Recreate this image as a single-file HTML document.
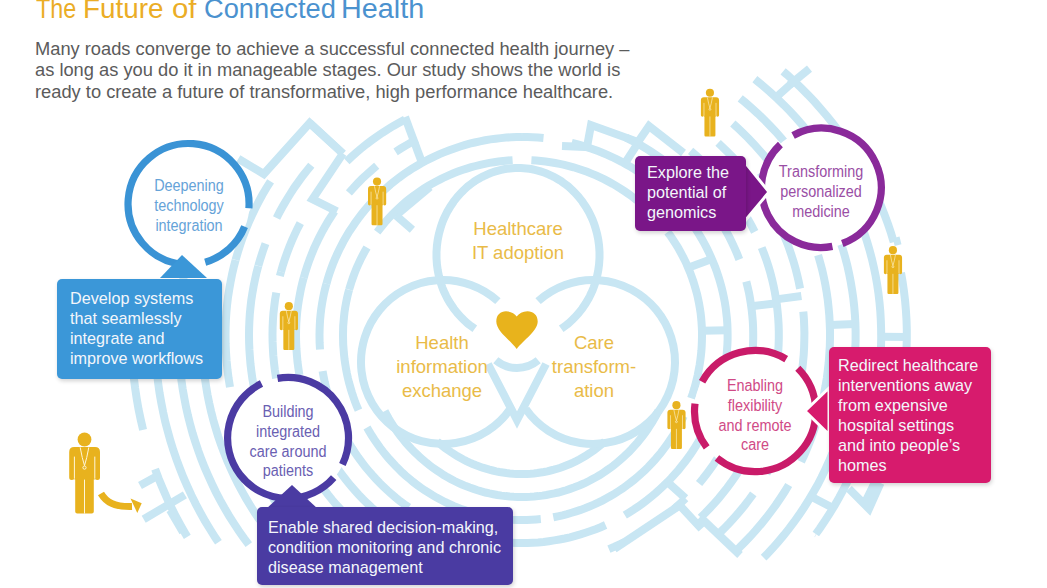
<!DOCTYPE html>
<html><head><meta charset="utf-8">
<style>
html,body{margin:0;padding:0;}
body{width:1047px;height:588px;overflow:hidden;position:relative;background:#fff;font-family:"Liberation Sans",sans-serif;}
.abs{position:absolute;}
#title{left:36px;top:-6px;font-size:27px;line-height:30px;white-space:nowrap;width:500px;height:30px;}
.tw{position:absolute;top:0;transform-origin:0 0;}
#para{left:35px;top:37.5px;font-size:18.3px;line-height:21.5px;color:#5b5b5b;white-space:nowrap;}
.box{position:absolute;border-radius:5px;color:#f3f6fb;font-size:16.2px;line-height:20px;white-space:nowrap;box-shadow:1px 2px 4px rgba(0,0,0,0.18);}
.lbl{position:absolute;text-align:center;font-size:16px;line-height:19.8px;white-space:nowrap;transform:scaleX(0.9);}
.gold{position:absolute;text-align:center;font-size:18.5px;line-height:24.2px;color:#e9bb48;white-space:nowrap;transform:scaleX(1.0);}
svg{position:absolute;left:0;top:0;}
</style></head>
<body>
<svg width="1047" height="588" viewBox="0 0 1047 588">
<!--MAZE-->
<g id="maze" fill="none" stroke="#c8e6f3" stroke-width="8" stroke-linecap="butt" stroke-linejoin="miter">
<path d="M343.0,335.0 L343.1,330.4 L343.2,325.8 L343.6,321.3 L344.0,316.7 L344.5,312.2 L345.2,307.6 L346.0,303.1 L346.9,298.6 L347.9,294.1 L349.1,289.7"/>
<path d="M349.1,289.7 L350.4,285.3 L351.8,280.9 L353.3,276.6 L354.9,272.3 L356.6,268.0 L358.5,263.8 L360.4,259.7 L362.5,255.6 L364.7,251.5 L367.0,247.5"/>
<path d="M377.2,232.1 L380.0,228.5 L382.9,224.9 L385.9,221.3 L389.0,217.9 L392.2,214.5 L395.4,211.3 L398.8,208.1 L402.2,204.9 L405.7,201.9 L409.4,199.0 L413.0,196.2 L416.8,193.4 L420.6,190.8 L424.5,188.2 L428.5,185.8 L432.5,183.4 L436.6,181.2 L440.7,179.1 L444.9,177.0 L449.2,175.1 L453.5,173.3 L457.9,171.6 L462.2,170.0 L466.7,168.6 L471.2,167.2 L475.7,166.0 L480.2,164.8 L484.8,163.8 L489.4,162.9 L494.0,162.2 L498.6,161.5 L503.3,161.0 L508.0,160.5 L512.6,160.2"/>
<path d="M531.4,160.2 L536.2,160.5 L540.9,161.0 L545.6,161.5 L550.4,162.2 L555.1,163.0 L559.7,163.9 L564.4,164.9 L569.0,166.1 L573.6,167.3 L578.1,168.7 L582.6,170.2 L587.1,171.8 L591.5,173.6 L595.9,175.4 L600.2,177.4 L604.4,179.4 L608.6,181.6 L612.8,183.9 L616.9,186.3 L620.9,188.8 L624.8,191.4 L628.7,194.1 L632.5,196.9 L636.2,199.7 L639.9,202.7 L643.4,205.8 L646.9,209.0 L650.3,212.2 L653.6,215.6 L656.8,219.0 L659.9,222.5"/>
<path d="M667.6,232.1 L670.4,235.9 L673.0,239.8 L675.5,243.7 L678.0,247.6 L680.3,251.7 L682.5,255.8 L684.6,259.9 L686.6,264.1 L688.4,268.4 L690.2,272.7 L691.8,277.0 L693.3,281.4 L694.7,285.8 L696.0,290.3 L697.2,294.7 L698.2,299.3 L699.1,303.8 L699.9,308.4 L700.6,312.9 L701.1,317.5 L701.5,322.1 L701.8,326.7 L702.0,331.4 L702.0,336.0 L701.9,340.9 L701.7,345.8 L701.4,350.7 L700.9,355.6 L700.3,360.4 L699.6,365.2 L698.7,370.0 L697.8,374.8 L696.7,379.6 L695.5,384.3 L694.2,389.0 L692.7,393.7 L691.1,398.3"/>
<path d="M683.8,416.1 L681.7,420.4 L679.4,424.7 L677.1,428.9 L674.6,433.0 L672.1,437.1 L669.4,441.1 L666.7,445.0 L663.8,448.9 L660.9,452.7 L657.8,456.4 L654.7,460.0 L651.5,463.5 L648.2,467.0 L644.8,470.3 L641.3,473.6 L637.7,476.7 L634.1,479.8 L630.3,482.7 L626.5,485.6 L622.7,488.4 L618.7,491.0 L614.7,493.6 L610.6,496.0 L606.5,498.3 L602.3,500.6 L598.1,502.7 L593.8,504.7 L589.4,506.5 L585.0,508.3 L580.6,509.9 L576.1,511.4 L571.6,512.8 L567.1,514.1 L562.5,515.3 L557.9,516.3 L553.3,517.2"/>
<path d="M540.8,519.0 L536.1,519.4 L531.4,519.7 L526.7,519.9 L522.0,520.0 L517.3,519.9 L512.6,519.7 L508.0,519.4 L503.3,519.0 L498.6,518.4 L494.0,517.7 L489.4,516.9 L484.8,516.0 L480.2,514.9 L475.7,513.7 L471.2,512.4 L466.7,510.9 L462.2,509.4 L457.9,507.7 L453.5,505.9 L449.2,504.0 L444.9,502.0 L440.7,499.8 L436.6,497.6 L432.5,495.2 L428.5,492.7 L424.5,490.2 L420.6,487.5 L416.8,484.7 L413.0,481.8 L409.4,478.8 L405.7,475.7 L402.2,472.5 L398.8,469.2 L395.4,465.8 L392.2,462.3 L389.0,458.8 L385.9,455.1 L382.9,451.4 L380.0,447.6 L377.2,443.7 L374.5,439.8 L371.9,435.8 L369.4,431.7 L367.0,427.5"/>
<path d="M358.5,410.2 L356.6,405.8 L354.9,401.3 L353.3,396.8 L351.8,392.2 L350.4,387.5 L349.1,382.9 L347.9,378.2 L346.9,373.5 L346.0,368.7 L345.2,363.9 L344.5,359.1 L344.0,354.3 L343.6,349.5 L343.2,344.7 L343.1,339.8 L343.0,335.0"/>
<path d="M319.5,335.0 L319.6,329.8 L319.8,324.6 L320.1,319.5 L320.6,314.3 L321.2,309.2 L322.0,304.0 L322.9,298.9 L323.9,293.8 L325.1,288.8 L326.4,283.8"/>
<path d="M326.4,283.8 L327.8,278.8 L329.4,273.8 L331.1,268.9 L332.9,264.0 L334.9,259.2 L337.0,254.5 L339.2,249.8 L341.6,245.1 L344.0,240.5 L346.6,236.0 L349.3,231.5 L352.2,227.2 L355.1,222.9 L358.2,218.6 L361.3,214.5 L364.6,210.4 L368.0,206.4 L371.5,202.5 L375.1,198.7 L378.8,195.0 L382.6,191.4 L386.5,187.9 L390.5,184.4 L394.6,181.1 L398.7,177.9 L403.0,174.8 L407.3,171.8 L411.7,168.9 L416.2,166.2 L420.8,163.5 L425.4,161.0 L430.1,158.6 L434.8,156.3 L439.6,154.1 L444.5,152.1 L449.4,150.2 L454.4,148.4 L459.4,146.7 L464.5,145.2 L469.6,143.7 L474.7,142.5 L479.9,141.3 L485.1,140.3 L490.3,139.4 L495.6,138.7 L500.8,138.1 L506.1,137.6 L511.4,137.3 L516.7,137.1 L522.0,137.0"/>
<path d="M522.0,137.0 L527.4,137.1 L532.8,137.3 L538.1,137.6 L543.5,138.1"/>
<path d="M571.7,142.9 L576.9,144.2 L582.1,145.7 L587.2,147.2 L592.3,148.9 L597.4,150.8 L602.3,152.7 L607.3,154.8 L612.1,157.0 L616.9,159.4 L621.7,161.8 L626.3,164.4 L631.0,167.1 L635.5,169.9 L639.9,172.8 L644.3,175.8 L648.6,179.0 L652.8,182.2 L656.9,185.6 L660.9,189.0 L664.8,192.6 L668.6,196.2 L672.4,200.0 L676.0,203.8 L679.5,207.7"/>
<path d="M690.4,221.4 L693.5,225.7 L696.4,230.1 L699.2,234.6 L701.9,239.1 L704.4,243.7 L706.9,248.4 L709.2,253.1 L711.3,257.8 L713.4,262.7 L715.3,267.5 L717.1,272.5 L718.7,277.4 L720.2,282.4 L721.6,287.5 L722.8,292.5 L723.9,297.7 L724.9,302.8 L725.7,307.9 L726.3,313.1 L726.9,318.3 L727.3,323.5 L727.5,328.7 L727.6,333.9 L727.6,339.3 L727.4,344.8 L727.0,350.3 L726.6,355.7 L726.0,361.1 L725.2,366.6 L724.3,372.0 L723.3,377.3 L722.1,382.7 L720.8,388.0 L719.4,393.3 L717.8,398.5 L716.1,403.7 L714.2,408.8 L712.2,413.9 L710.1,419.0 L707.9,423.9 L705.5,428.9 L703.0,433.7 L700.3,438.5 L697.6,443.2 L694.7,447.8 L691.7,452.4 L688.6,456.9 L685.4,461.3 L682.0,465.6 L678.6,469.8 L675.0,473.9 L671.4,477.9 L667.6,481.9 L663.7,485.7 L659.7,489.4 L655.7,493.0 L651.5,496.5 L647.3,499.9 L642.9,503.2 L638.5,506.4 L634.0,509.4 L629.4,512.3 L624.8,515.1"/>
<path d="M605.6,525.0 L600.7,527.2 L595.7,529.2 L590.6,531.1 L585.5,532.8 L580.4,534.4 L575.2,535.9 L570.0,537.3 L564.7,538.5 L559.5,539.5 L554.2,540.4 L548.8,541.2 L543.5,541.9 L538.1,542.4 L532.8,542.7 L527.4,542.9 L522.0,543.0 L516.7,542.9 L511.4,542.7 L506.1,542.4 L500.8,541.9 L495.6,541.2 L490.3,540.4 L485.1,539.5 L479.9,538.5 L474.7,537.3 L469.6,535.9 L464.5,534.4 L459.4,532.8 L454.4,531.1 L449.4,529.2 L444.5,527.2 L439.6,525.0 L434.8,522.7 L430.1,520.3 L425.4,517.8 L420.8,515.1"/>
<path d="M408.8,507.4 L404.3,504.3 L399.9,501.0 L395.7,497.6 L391.5,494.0 L387.4,490.4 L383.4,486.6 L379.5,482.8 L375.7,478.8 L372.0,474.7 L368.4,470.5 L364.9,466.3 L361.6,461.9 L358.3,457.5 L355.2,452.9 L352.2,448.3 L349.3,443.6 L346.5,438.8 L343.9,433.9 L341.4,429.0 L339.0,424.0 L336.7,418.9 L334.6,413.8 L332.6,408.6 L330.8,403.4 L329.1,398.1 L327.5,392.8 L326.0,387.4 L324.7,382.0 L323.6,376.6 L322.6,371.1"/>
<path d="M320.0,349.5 L319.6,342.3 L319.5,335.0"/>
<path d="M296.0,335.0 L296.1,329.2 L296.3,323.4 L296.7,317.7 L297.2,311.9 L297.9,306.2 L298.8,300.4 L299.8,294.7 L300.9,289.1 L302.2,283.4 L303.7,277.8"/>
<path d="M303.7,277.8 L305.4,271.9 L307.3,266.1 L309.3,260.3 L311.5,254.6 L313.8,248.9 L316.3,243.4 L319.0,237.8 L321.8,232.4 L324.8,227.0 L327.9,221.7 L331.2,216.5 L334.6,211.4"/>
<path d="M348.9,192.9 L353.2,188.1 L357.6,183.3 L362.2,178.7 L366.9,174.3 L371.8,169.9 L376.7,165.7"/>
<path d="M395.6,151.8 L400.8,148.5 L406.1,145.3 L411.5,142.2 L416.9,139.3"/>
<path d="M626.1,137.7 L629.4,139.3 L634.9,142.1 L640.3,145.1 L645.6,148.2 L650.8,151.5 L655.9,154.8 L660.9,158.3 L665.8,162.0 L670.6,165.7"/>
<path d="M682.6,176.0 L687.0,180.2 L691.3,184.4 L695.4,188.8 L699.4,193.3 L703.3,197.9 L707.1,202.5 L710.7,207.3 L714.2,212.2 L717.6,217.1 L720.8,222.2 L723.9,227.3 L726.8,232.5 L729.6,237.7 L732.2,243.0 L734.7,248.4 L737.1,253.9 L739.3,259.4"/>
<path d="M746.3,281.5 L747.7,287.2 L749.0,292.8 L750.0,298.5 L750.9,304.2 L751.7,310.0 L752.3,315.7 L752.8,321.5 L753.1,327.3 L753.2,333.1 L753.2,339.0 L753.0,345.1 L752.6,351.1 L752.1,357.1 L751.5,363.2 L750.7,369.1 L749.7,375.1 L748.6,381.1 L747.3,387.0 L745.8,392.8 L744.2,398.7 L742.5,404.5 L740.6,410.2 L738.6,415.9 L736.4,421.5 L734.0,427.1 L731.5,432.6 L728.9,438.1 L726.1,443.4 L723.2,448.7 L720.2,454.0 L717.0,459.1 L713.7,464.2 L710.2,469.1 L706.6,474.0 L702.9,478.8 L699.1,483.5"/>
<path d="M685.5,498.3 L681.1,502.6 L676.5,506.8 L674.2,508.9"/>
<path d="M624.3,542.2 L620.2,544.1 L614.6,546.7 L608.9,549.1 L608.9,549.1"/>
<path d="M437.5,549.3 L437.2,549.1 L431.7,546.7 L426.2,544.2 L420.8,541.6 L415.5,538.8 L410.3,535.8 L405.2,532.7 L400.1,529.5 L395.1,526.2 L390.2,522.7 L385.4,519.0 L380.7,515.3 L376.1,511.4 L371.6,507.4 L367.2,503.3 L362.9,499.1 L358.7,494.7 L354.7,490.3 L350.7,485.7 L346.9,481.0 L343.2,476.2 L339.6,471.4 L336.1,466.4 L332.8,461.3 L329.6,456.2 L326.5,450.9 L323.6,445.6 L320.8,440.2 L318.2,434.8 L315.7,429.2 L313.3,423.6 L311.1,418.0 L309.0,412.3 L307.1,406.5 L305.3,400.7 L303.7,394.8"/>
<path d="M299.4,375.1 L298.4,368.5 L297.5,361.8 L296.9,355.1 L296.4,348.4 L296.1,341.7 L296.0,335.0"/>
<path d="M272.5,335.0 L272.6,327.9 L272.9,320.8 L273.4,313.7 L274.2,306.7 L275.1,299.6 L276.3,292.6"/>
<path d="M279.9,276.0 L281.0,271.8"/>
<path d="M281.0,271.8 L282.8,265.5 L284.8,259.3 L287.0,253.1 L289.3,247.0 L291.8,240.9 L294.5,234.9 L297.3,228.9 L300.3,223.1"/>
<path d="M346.8,161.3 L351.6,156.8 L356.4,152.5 L361.4,148.3 L366.5,144.2 L371.7,140.3 L377.0,136.5 L382.4,132.8 L387.8,129.3 L393.4,125.9 L399.1,122.7 L404.9,119.6"/>
<path d="M690.6,150.9 L695.5,155.1 L700.4,159.5 L705.2,164.0 L709.8,168.6 L714.3,173.3 L718.7,178.2 L723.0,183.1 L727.1,188.2 L731.1,193.3 L734.9,198.6 L738.6,203.9 L742.1,209.3 L745.5,214.8 L748.7,220.4 L751.8,226.1 L754.7,231.9"/>
<path d="M761.7,247.6 L764.1,253.8 L766.4,260.0 L768.4,266.3 L770.3,272.7 L772.0,279.1 L773.5,285.5 L774.8,292.0 L775.9,298.5 L776.9,305.1 L777.6,311.6 L778.2,318.2 L778.6,324.8 L778.8,331.4 L778.8,338.1 L778.6,345.0 L778.2,351.8 L777.7,358.7 L776.9,365.5 L776.0,372.3 L774.9,379.1"/>
<path d="M768.9,405.0 L766.9,411.4 L764.8,417.7 L762.5,424.0 L760.1,430.2 L757.5,436.3 L754.7,442.3 L751.8,448.3 L748.7,454.2 L745.5,460.1 L742.1,465.8 L738.6,471.5 L734.9,477.0 L731.1,482.5 L727.1,487.9 L723.0,493.1 L718.7,498.3 L714.3,503.3 L709.8,508.2 L705.2,513.0 L700.6,517.5"/>
<path d="M387.3,548.8 L386.1,548.0 L380.7,544.3 L375.3,540.5 L370.1,536.5 L365.0,532.4 L360.0,528.1 L355.1,523.8 L350.3,519.2 L345.6,514.6 L341.0,509.8 L336.6,505.0 L332.3,500.0 L328.1,494.8 L324.1,489.6 L320.2,484.3 L316.4,478.9 L312.8,473.3 L309.3,467.7 L305.9,462.0"/>
<path d="M295.9,442.3 L293.1,436.0 L290.5,429.6 L288.0,423.2 L285.7,416.6 L283.6,410.1 L281.7,403.4 L280.0,396.7 L278.4,390.0 L277.0,383.2 L275.8,376.4 L274.8,369.5 L274.0,362.7 L273.3,355.8 L272.9,348.8 L272.6,341.9 L272.5,335.0"/>
<path d="M249.0,335.0 L249.1,328.0 L249.4,321.0 L249.8,314.1 L250.5,307.1 L251.3,300.1 L252.4,293.2 L253.6,286.3 L255.0,279.5 L256.5,272.7 L258.3,265.9"/>
<path d="M258.3,265.9 L260.5,258.4 L262.9,251.0 L265.5,243.7"/>
<path d="M276.6,218.0 L279.8,211.7 L283.2,205.6 L286.8,199.5 L290.5,193.5 L294.3,187.6 L298.4,181.9 L302.5,176.2 L306.9,170.6 L311.3,165.2"/>
<path d="M718.1,142.9 L722.3,146.8 L727.5,151.9 L732.6,157.1 L737.5,162.4 L742.2,167.9 L746.8,173.4 L751.2,179.1 L755.5,184.9 L759.6,190.7 L763.6,196.7 L767.4,202.8 L771.0,209.0 L774.4,215.2 L777.7,221.6 L780.7,228.0 L783.6,234.5 L786.4,241.1 L788.9,247.7 L791.2,254.4 L793.4,261.2 L795.4,268.0 L797.1,274.8 L798.7,281.7 L800.1,288.6"/>
<path d="M803.3,311.7 L803.9,318.8 L804.2,325.9 L804.4,333.0 L804.3,340.3 L804.1,347.6 L803.7,355.0 L803.0,362.3 L802.2,369.6 L801.2,376.9 L799.9,384.1 L798.5,391.4 L796.9,398.5 L795.1,405.7 L793.0,412.8 L790.8,419.8 L788.5,426.8 L785.9,433.7 L783.1,440.5 L780.2,447.3 L777.0,454.0 L773.7,460.6 L770.2,467.1 L766.6,473.5"/>
<path d="M753.3,493.9 L748.8,500.0 L744.2,506.0 L739.3,511.9 L734.3,517.6 L729.2,523.2 L723.9,528.7 L718.4,534.0 L718.2,534.3"/>
<path d="M348.0,548.4 L346.5,547.2"/>
<path d="M325.6,527.4 L320.7,522.1 L315.9,516.6 L311.2,511.0 L306.7,505.3 L302.3,499.4 L298.1,493.5 L294.0,487.4 L290.1,481.2 L286.4,474.9 L282.8,468.6 L279.4,462.1 L276.2,455.5 L273.1,448.9 L270.3,442.2 L267.5,435.4 L265.0,428.5 L262.7,421.5 L260.5,414.6 L258.5,407.5 L256.7,400.4 L255.1,393.2 L253.7,386.1 L252.4,378.8 L251.4,371.6 L250.5,364.3 L249.9,357.0 L249.4,349.7 L249.1,342.3 L249.0,335.0"/>
<path d="M225.5,335.0 L225.6,327.4 L225.9,319.8 L226.4,312.2 L227.1,304.7 L228.0,297.1 L229.2,289.6 L230.5,282.2 L232.0,274.7 L233.7,267.3 L235.6,259.9"/>
<path d="M235.6,259.9 L237.8,252.4 L240.2,244.9 L242.7,237.5 L245.5,230.2 L248.5,223.0 L251.7,215.8 L255.1,208.7 L258.7,201.7 L262.4,194.8 L266.4,188.0 L270.6,181.3"/>
<path d="M732.8,123.6 L736.9,127.2 L742.6,132.7 L748.3,138.2 L753.7,143.9 L759.0,149.8 L764.1,155.7 L769.1,161.8 L773.8,168.0 L778.4,174.4 L782.9,180.8 L787.1,187.4 L791.1,194.0 L795.0,200.8 L798.7,207.6 L802.2,214.5 L805.5,221.5 L808.5,228.6 L811.4,235.8"/>
<path d="M818.1,255.1 L820.2,262.5 L822.2,269.9 L823.9,277.5 L825.4,285.0 L826.7,292.6 L827.8,300.2 L828.6,307.9 L829.3,315.5 L829.7,323.2 L830.0,330.9 L830.0,338.7 L829.8,346.6 L829.3,354.6 L828.7,362.5 L827.8,370.4 L826.8,378.3 L825.5,386.1 L824.0,394.0 L822.3,401.7 L820.4,409.5 L818.2,417.1 L815.9,424.7 L813.3,432.3 L810.6,439.8 L807.6,447.2 L804.5,454.5 L801.1,461.8"/>
<path d="M788.7,485.0 L784.6,491.8 L780.2,498.5 L775.7,505.1 L771.0,511.5 L766.2,517.9 L761.1,524.1 L755.9,530.2 L750.6,536.1 L745.0,541.9 L739.3,547.6 L735.7,551.0"/>
<path d="M313.3,548.1 L313.2,548.0 L307.7,542.3 L302.4,536.6 L297.2,530.6 L292.2,524.6 L287.3,518.4 L282.6,512.0 L278.1,505.6 L273.7,499.0 L269.5,492.3 L265.5,485.5 L261.7,478.6 L258.0,471.6 L254.6,464.5 L251.3,457.4 L248.2,450.1 L245.3,442.7 L242.6,435.3 L240.0,427.8 L237.7,420.3 L235.6,412.6"/>
<path d="M230.0,387.1 L228.6,378.5 L227.5,369.8 L226.6,361.1 L226.0,352.4 L225.6,343.7 L225.5,335.0"/>
<path d="M202.0,335.0 L202.1,325.9 L202.5,316.8 L203.2,307.7 L204.2,298.7 L205.4,289.6 L206.9,280.6"/>
<path d="M740.2,98.3 L745.2,102.4 L751.6,108.0 L757.9,113.7 L764.0,119.5 L769.9,125.6 L775.7,131.7 L781.3,138.0 L786.7,144.5 L791.9,151.0 L796.9,157.7 L801.8,164.5 L806.4,171.5 L810.9,178.5"/>
<path d="M824.3,202.7 L828.0,210.3 L831.4,218.0 L834.6,225.7 L837.6,233.5 L840.3,241.4 L842.9,249.4 L845.2,257.4 L847.3,265.5 L849.1,273.6 L850.7,281.8 L852.1,290.0 L853.3,298.3 L854.2,306.5 L854.9,314.8 L855.4,323.1 L855.6,331.4 L855.6,339.9 L855.3,348.5 L854.8,357.0 L854.1,365.6 L853.1,374.1 L852.0,382.6 L850.5,391.1"/>
<path d="M845.7,413.1 L843.4,421.4 L841.0,429.6 L838.3,437.8 L835.3,445.9 L832.2,453.9 L828.8,461.8 L825.2,469.6 L821.5,477.3 L817.5,485.0 L813.2,492.5 L808.8,499.9 L804.2,507.2 L799.4,514.4 L794.4,521.5 L789.2,528.4 L783.8,535.2 L778.2,541.8 L772.5,548.3 L766.6,554.7 L763.6,557.7"/>
<path d="M280.4,546.8 L276.9,542.6"/>
<path d="M259.9,520.3 L255.1,513.2 L250.5,506.0 L246.1,498.6 L241.9,491.2 L237.9,483.6 L234.1,475.9 L230.5,468.2 L227.1,460.3 L223.9,452.4 L220.9,444.3 L218.1,436.2 L215.6,428.0 L213.2,419.8 L211.1,411.5 L209.2,403.1 L207.5,394.7 L206.1,386.3 L204.8,377.8 L203.8,369.3 L203.0,360.7 L202.5,352.1 L202.1,343.6 L202.0,335.0"/>
<path d="M178.5,335.0 L178.6,326.2 L179.0,317.4 L179.6,308.6 L180.4,299.9 L181.4,291.1 L182.7,282.4 L184.3,273.8 L186.0,265.1 L188.0,256.6 L190.2,248.0"/>
<path d="M754.9,79.2 L756.3,80.3 L763.4,86.2 L770.3,92.2 L777.0,98.4 L783.6,104.8 L790.0,111.3 L796.2,118.0 L802.2,124.8 L808.0,131.8 L813.6,138.9 L819.1,146.1 L824.3,153.5 L829.3,161.0 L834.1,168.6 L838.6,176.4 L843.0,184.2 L847.1,192.2 L851.0,200.2 L854.7,208.4 L858.2,216.6 L861.4,224.9 L864.3,233.3 L867.1,241.8 L869.6,250.3 L871.9,258.9 L873.9,267.5 L875.7,276.2 L877.2,284.9 L878.5,293.7 L879.5,302.5 L880.3,311.3 L880.8,320.1 L881.1,328.9 L881.2,337.9 L881.0,347.0 L880.5,356.1 L879.8,365.2"/>
<path d="M875.7,395.1 L874.0,404.0 L872.0,412.8 L869.8,421.6 L867.3,430.4 L864.6,439.0 L861.6,447.6 L858.5,456.2 L855.0,464.6 L851.4,473.0 L847.5,481.2 L843.5,489.4 L839.2,497.4 L834.6,505.4 L829.9,513.2 L824.9,520.9 L819.8,528.5 L815.8,534.0"/>
<path d="M248.8,544.7 L244.1,538.4 L238.9,531.0 L233.9,523.4 L229.1,515.8 L224.5,508.0 L220.1,500.1 L215.9,492.1 L212.0,484.0 L208.2,475.7 L204.6,467.4 L201.3,459.0 L198.2,450.5 L195.3,441.9 L192.6,433.3 L190.2,424.6 L188.0,415.8 L186.0,406.9 L184.3,398.1 L182.7,389.1 L181.4,380.2 L180.4,371.2 L179.6,362.1 L179.0,353.1 L178.6,344.1 L178.5,335.0"/>
<path d="M155.0,335.0 L155.1,325.6 L155.5,316.2 L156.1,306.8 L157.0,297.5 L157.3,295.5"/>
<path d="M783.1,71.4 L786.9,74.6 L794.1,81.1 L801.1,87.9 L808.0,94.8 L814.6,101.8 L821.0,109.1 L827.3,116.5 L833.3,124.0 L839.1,131.7 L844.7,139.5 L850.1,147.4 L855.2,155.5 L860.2,163.7 L864.9,172.0 L869.3,180.4 L873.5,189.0 L877.5,197.6 L881.2,206.3 L884.7,215.2 L888.0,224.1 L891.0,233.0 L893.7,242.1"/>
<path d="M901.0,272.7 L902.6,282.0 L904.0,291.5 L905.1,300.9 L905.9,310.4 L906.5,319.9 L906.8,329.4 L906.8,339.0 L906.5,348.8 L906.0,358.6 L905.2,368.3 L904.2,378.0 L902.9,387.7 L901.3,397.4 L899.4,407.0 L897.3,416.5 L894.9,426.1 L892.3,435.5 L889.3,444.9 L886.2,454.2 L882.8,463.4 L879.1,472.5 L875.2,481.5 L871.0,490.4 L866.6,499.2 L864.0,504.0"/>
<path d="M218.4,542.3 L215.4,537.8 L210.2,529.5 L205.1,521.2 L200.4,512.7 L195.8,504.1 L191.5,495.4 L187.4,486.5 L183.5,477.6 L179.9,468.5 L176.5,459.4 L173.3,450.1 L170.4,440.8 L167.8,431.4 L165.3,422.0 L163.2,412.5 L161.3,402.9 L159.6,393.3 L158.2,383.6 L157.1,374.0 L156.2,364.2 L155.5,354.5 L155.1,344.8 L155.0,335.0"/>
<path d="M187.3,536.8 L185.7,534.2 L180.6,525.2 L175.7,516.2 L171.1,507.0 L166.7,497.7 L162.6,488.2 L158.7,478.7 L155.1,469.1"/>
<path d="M143.1,429.8 L140.7,419.5 L138.5,409.1 L136.7,398.6 L135.1,388.0 L133.8,377.5 L132.8,366.9 L132.1,356.3 L131.8,349.6"/>
<path d="M658.3,411.1 L656.4,414.8 L654.3,418.5 L652.2,422.1 L649.9,425.7 L647.6,429.2 L645.2,432.7 L642.7,436.0 L640.1,439.3 L637.4,442.6 L634.7,445.7 L631.9,448.8 L629.0,451.8 L626.0,454.7 L622.9,457.6 L619.8,460.3 L616.6,463.0 L613.4,465.6 L610.1,468.1 L606.7,470.4 L603.3,472.7 L599.8,475.0 L596.2,477.1 L592.6,479.1 L589.0,481.0 L585.3,482.8 L581.5,484.5 L577.8,486.1 L573.9,487.6 L570.1,488.9 L566.2,490.2 L562.3,491.4 L558.3,492.5 L554.4,493.4 L550.4,494.2 L546.3,495.0 L542.3,495.6 L538.3,496.1 L534.2,496.5 L530.1,496.8 L526.1,496.9 L522.0,497.0 L517.9,496.9 L513.8,496.8 L509.7,496.5 L505.6,496.1 L501.5,495.6 L497.5,495.0 L493.4,494.2 L489.4,493.4 L485.4,492.5 L481.4,491.4 L477.5,490.2 L473.6,488.9 L469.7,487.6 L465.8,486.1 L462.0,484.5 L458.3,482.8 L454.5,481.0 L450.9,479.1 L447.2,477.1 L443.7,475.0 L440.2,472.7 L436.7,470.4 L433.3,468.1 L430.0,465.6 L426.7,463.0 L423.5,460.3 L420.3,457.6 L417.3,454.7 L414.3,451.8 L411.3,448.8 L408.5,445.7 L405.7,442.6 L403.1,439.3 L400.4,436.0 L397.9,432.7 L395.5,429.2 L393.2,425.7 L390.9,422.1 L388.7,418.5 L386.7,414.8 L384.7,411.1"/>
<path d="M604.8,441.5 L602.2,443.8 L599.5,446.0 L596.7,448.2 L594.0,450.3 L591.1,452.3 L588.2,454.2 L585.3,456.1 L582.3,457.8 L579.3,459.5 L576.2,461.1 L573.1,462.6 L570.0,464.0 L566.8,465.3 L563.7,466.5 L560.4,467.7 L557.2,468.7 L553.9,469.7 L550.6,470.5 L547.3,471.3 L543.9,472.0 L540.6,472.5 L537.2,473.0 L533.9,473.4 L530.5,473.7 L527.1,473.9 L523.7,474.0 L520.3,474.0 L516.8,473.9 L513.3,473.7 L509.8,473.4 L506.4,473.0 L502.9,472.5 L499.5,472.0 L496.1,471.3 L492.7,470.5 L489.3,469.7 L486.0,468.7 L482.6,467.7 L479.3,466.5 L476.0,465.3 L472.8,464.0 L469.6,462.6 L466.4,461.1 L463.3,459.5 L460.2,457.8 L457.1,456.1 L454.1,454.2 L451.2,452.3 L448.3,450.3 L445.4,448.2 L442.6,446.0 L439.8,443.8 L437.2,441.5"/>
<path d="M688.2,267.7 L711.8,258.9"/>
<path d="M751.2,306.2 L776.6,303.2"/>
<path d="M776.0,299.4 L801.4,296.0"/>
<path d="M829.8,324.9 L855.4,324.1"/>
<path d="M881.2,336.8 L906.8,336.9"/>
<path d="M701.9,330.7 L727.5,330.2"/>
<path d="M794.8,406.7 L819.5,412.6"/>
<path d="M810.9,496.5 L833.1,508.0"/>
<path d="M667.4,482.1 L685.5,498.3"/>
<path d="M624.8,163.5 L637.6,143.6"/>
<path d="M776.0,97.4 L794.1,81.1"/>
<path d="M810.9,178.5 L833.1,167.0"/>
<path d="M893.7,242.1 L900.5,240.4"/>
<path d="M739.3,414.0 L763.3,421.9"/>
<path d="M816.2,533.5 L816.6,533.7"/>
<path d="M452.7,530.5 L445.7,549.3"/>
<path d="M753.3,181.9 L774.3,168.7"/>
<path d="M238.3,158.7 L263.8,174.0 L309.7,123.0 L343.0,153.6"/>
<path d="M309.7,123.0 L343.0,153.6"/>
<path d="M343.0,153.6 L312.4,199.2 L337.0,211.4"/>
<path d="M405.0,117.0 L421.0,160.0"/>
<path d="M396.0,215.5 L430.0,187.0"/>
<path d="M412.4,229.8 L396.0,215.5"/>
<path d="M562.0,146.0 L587.0,147.0 L591.0,125.0 L638.0,142.0 L649.0,126.0 L683.5,153.0"/>
<path d="M789.6,84.8 L809.5,68.7"/>
<path d="M700.0,517.0 L740.0,555.0"/>
<path d="M849.0,488.7 L869.0,508.8 L880.5,483.0"/>
<path d="M614.4,548.9 L679.7,505.3 L701.5,528.9"/>
<path d="M156.8,476.2 L140.0,485.6"/>
<path d="M184.9,494.9 L143.7,519.2"/>
<path d="M170.0,510.0 L183.0,532.3"/>
<path d="M474.8,328.8 L472.4,327.1 L470.1,325.4 L467.8,323.6 L465.6,321.6 L463.5,319.7 L461.4,317.6 L459.4,315.4 L457.4,313.2 L455.6,310.9 L453.8,308.6 L452.1,306.1 L450.4,303.6 L448.9,301.1 L447.4,298.5 L446.0,295.8 L444.7,293.1 L443.5,290.4 L442.4,287.6 L441.4,284.8 L440.5,281.9 L439.7,279.0 L438.9,276.0 L438.3,273.1 L437.7,270.1 L437.3,267.1 L436.9,264.1 L436.7,261.1 L436.5,258.0 L436.5,255.0 L436.5,252.0 L436.7,248.9 L436.9,245.9 L437.3,242.9 L437.7,239.9 L438.3,236.9 L438.9,234.0 L439.7,231.0 L440.5,228.1 L441.4,225.2 L442.4,222.4 L443.5,219.6 L444.7,216.9 L446.0,214.2 L447.4,211.5 L448.9,208.9 L450.4,206.4 L452.1,203.9 L453.8,201.4 L455.6,199.1 L457.4,196.8 L459.4,194.6 L461.4,192.4 L463.5,190.3 L465.6,188.4 L467.8,186.4 L470.1,184.6 L472.4,182.9 L474.8,181.2 L477.2,179.7 L479.7,178.2 L482.3,176.8 L484.9,175.5 L487.5,174.3 L490.1,173.2 L492.8,172.3 L495.5,171.4 L498.3,170.6 L501.1,169.9 L503.8,169.3 L506.7,168.8 L509.5,168.5 L512.3,168.2 L515.2,168.1 L518.0,168.0 L520.8,168.1 L523.7,168.2 L526.5,168.5 L529.3,168.8 L532.2,169.3 L534.9,169.9 L537.7,170.6 L540.5,171.4 L543.2,172.3 L545.9,173.2 L548.5,174.3 L551.1,175.5 L553.7,176.8 L556.3,178.2 L558.8,179.7 L561.2,181.2 L563.6,182.9 L565.9,184.6 L568.2,186.4 L570.4,188.4 L572.5,190.3 L574.6,192.4 L576.6,194.6 L578.6,196.8 L580.4,199.1 L582.2,201.4 L583.9,203.9 L585.6,206.4 L587.1,208.9 L588.6,211.5 L590.0,214.2 L591.3,216.9 L592.5,219.6 L593.6,222.4 L594.6,225.2 L595.5,228.1 L596.3,231.0 L597.1,234.0 L597.7,236.9 L598.3,239.9 L598.7,242.9 L599.1,245.9 L599.3,248.9 L599.5,252.0 L599.5,255.0 L599.5,258.0 L599.3,261.1 L599.1,264.1 L598.7,267.1 L598.3,270.1 L597.7,273.1 L597.1,276.0 L596.3,279.0 L595.5,281.9 L594.6,284.8 L593.6,287.6 L592.5,290.4 L591.3,293.1 L590.0,295.8 L588.6,298.5 L587.1,301.1 L585.6,303.6 L583.9,306.1 L582.2,308.6 L580.4,310.9 L578.6,313.2 L576.6,315.4 L574.6,317.6 L572.5,319.7 L570.4,321.6 L568.2,323.6 L565.9,325.4 L563.6,327.1 L561.2,328.8"/>
<path d="M510.2,409.0 A82,82 0 1 1 497.9,301.1"/>
<path d="M538.1,301.1 A82,82 0 1 1 525.8,409.0"/>
<path d="M538.2,360.3 A33,33 0 0 1 495.8,360.3"/>
<path d="M488,364 L517,420 L546,364"/>
</g>
<!--/MAZE-->
  <defs><g id="person">
    <circle cx="15.3" cy="6.9" r="6.9"/>
    <path d="M5,14.5 H25.8 Q30.8,14.5 30.8,19.5 V45 Q30.8,47.5 28.2,47.5 Q25.6,47.5 25.6,45 V47 H24.6 V79 Q24.6,81 22.6,81 H8 Q6,81 6,79 V47 H5.2 V45 Q5.2,47.5 2.6,47.5 Q0,47.5 0,45 V19.5 Q0,14.5 5,14.5 Z"/>
    <g stroke="#fff6d8" stroke-width="1" fill="none">
      <path d="M5.2,24 V46 M25.6,24 V46 M15.3,47 V81"/>
      <path d="M11,14.8 Q13,26 15.3,33 Q17.6,26 19.6,14.8"/>
      <circle cx="15.3" cy="35" r="1.6"/>
    </g>
  </g></defs>
  <!-- circles -->
  <g fill="#fff">
    <circle cx="188.5" cy="204" r="61"/>
    <circle cx="288" cy="438" r="61"/>
    <circle cx="821" cy="188" r="60"/>
    <circle cx="755" cy="411" r="61"/>
  </g>
  <g fill="none" stroke-width="7.2">
    <path stroke="#3a93d5" d="M244.6,226.7 A60.5,60.5 0 0 1 205.2,262.2 M183.2,264.3 A60.5,60.5 0 1 1 248.9,208.2"/>
    <path stroke="#4b3ba3" d="M277.5,378.4 A60.5,60.5 0 0 1 342.4,464.5 M333.7,477.7 A60.5,60.5 0 1 1 261.5,383.6"/>
    <path stroke="#8a2a9a" d="M793.1,135.5 A59.5,59.5 0 1 1 842.3,243.5 M832.4,246.4 A59.5,59.5 0 0 1 780.4,144.5"/>
    <path stroke="#c91b69" d="M797.8,368.2 A60.5,60.5 0 0 1 716.9,458.0 M706.7,447.4 A60.5,60.5 0 0 1 695.0,403.6 M702.1,381.7 A60.5,60.5 0 0 1 786.2,359.1"/>
  </g>
  <!-- pointers -->
  <polygon points="182,255 160,278 207,278" fill="#3b97d8" stroke="#fff" stroke-width="0"/>
  <polygon points="292,485 266,509 318,509" fill="#4a3ba2"/>
  <polygon points="744,161 769,192 744,222" fill="#7a1688" stroke="#fff" stroke-width="3" stroke-linejoin="miter"/>
  <polygon points="829,388 805,411 829,434.5" fill="#d71b6d" stroke="#fff" stroke-width="3"/>
  <!-- heart -->
  <path fill="#e8b31c" d="M516.7,349 C510,340 496.3,331 496.3,321.5 C496.3,315 500.5,311.3 506,311.3 C511,311.3 514.5,313.5 516.7,316.6 C519,313.5 522.5,311.3 527.5,311.3 C533,311.3 537.7,315 537.7,321.5 C537.7,331 523.5,340 516.7,349 Z"/>
  <!-- people -->
  <g fill="#e8b21e">
    <use href="#person" transform="translate(69.2,432.6)"/>
    <use href="#person" transform="translate(368,177.5) scale(0.59)"/>
    <use href="#person" transform="translate(279.8,302.1) scale(0.59)"/>
    <use href="#person" transform="translate(700.9,88.7) scale(0.59)"/>
    <use href="#person" transform="translate(883.9,246.1) scale(0.59)"/>
    <use href="#person" transform="translate(667.4,401.1) scale(0.59)"/>
  </g>
  <!-- curved arrow -->
  <path d="M101,493.5 C106,502 114,507 132,506.5" fill="none" stroke="#e8b21e" stroke-width="7"/>
  <polygon points="130.5,498.5 141.7,503.2 137.3,513" fill="#e8b21e"/>
</svg>

<div id="title" class="abs">
<span class="tw" style="left:0px;color:#ebad26;transform:scaleX(0.864)">The</span>
<span class="tw" style="left:47px;color:#ebad26;transform:scaleX(1.03)">Future</span>
<span class="tw" style="left:136px;color:#ebad26;transform:scaleX(1.09)">of</span>
<span class="tw" style="left:168px;color:#4b92cf;transform:scaleX(1.01)">Connected</span>
<span class="tw" style="left:305px;color:#4b92cf;transform:scaleX(1.065)">Health</span>
</div>
<div id="para" class="abs">Many roads converge to achieve a successful connected health journey –<br>as long as you do it in manageable stages. Our study shows the world is<br>ready to create a future of transformative, high performance healthcare.</div>

<div class="box" style="left:57px;top:279px;width:165px;height:100px;background:#3b97d8;"><div style="position:absolute;left:13px;top:9px;">Develop systems<br>that seamlessly<br>integrate and<br>improve workflows</div></div>
<div class="box" style="left:257px;top:507px;width:256px;height:78px;background:#4a3ba2;"><div style="position:absolute;left:11px;top:10px;">Enable shared decision-making,<br>condition monitoring and chronic<br>disease management</div></div>
<div class="box" style="left:635px;top:156px;width:111px;height:75px;background:#7a1688;"><div style="position:absolute;left:12px;top:6px;">Explore the<br>potential of<br>genomics</div></div>
<div class="box" style="left:829px;top:347px;width:162px;height:136px;background:#d71b6d;"><div style="position:absolute;left:9px;top:8px;">Redirect healthcare<br>interventions away<br>from expensive<br>hospital settings<br>and into people’s<br>homes</div></div>

<div class="lbl" style="left:139px;top:176px;width:100px;color:#66a3d8;">Deepening<br>technology<br>integration</div>
<div class="lbl" style="left:238px;top:402px;width:100px;color:#6a60b2;">Building<br>integrated<br>care around<br>patients</div>
<div class="lbl" style="left:771px;top:162px;width:100px;color:#9a4ea5;">Transforming<br>personalized<br>medicine</div>
<div class="lbl" style="left:705px;top:376px;width:100px;color:#d04a86;">Enabling<br>flexibility<br>and remote<br>care</div>

<div class="gold" style="left:458px;top:217px;width:120px;">Healthcare<br>IT adoption</div>
<div class="gold" style="left:382px;top:331px;width:120px;">Health<br>information<br>exchange</div>
<div class="gold" style="left:534px;top:331px;width:120px;">Care<br>transform-<br>ation</div>
</body></html>
